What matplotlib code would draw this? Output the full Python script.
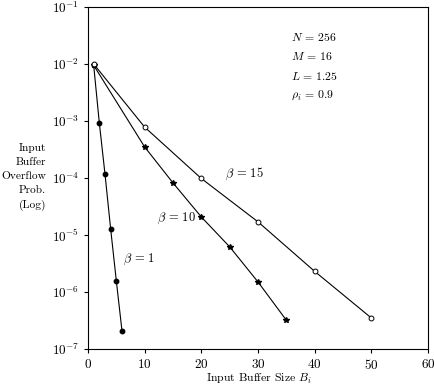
import matplotlib
matplotlib.use("Agg")
import matplotlib.pyplot as plt

plt.rcParams["font.family"] = "serif"
plt.rcParams["font.serif"] = ["cmr10", "DejaVu Serif"]
plt.rcParams["mathtext.fontset"] = "cm"
plt.rcParams["axes.formatter.use_mathtext"] = True

# beta = 1
b1_x = [1, 2, 3, 4, 5, 6]
b1_y = [9.5e-3, 9.2e-4, 1.17e-4, 1.27e-5, 1.56e-6, 2.07e-7]

# beta = 10
b10_x = [1, 10, 15, 20, 25, 30, 35]
b10_y = [9.5e-3, 3.5e-4, 8.2e-5, 2.07e-5, 6.2e-6, 1.5e-6, 3.2e-7]

# beta = 15
b15_x = [1, 10, 20, 30, 40, 50]
b15_y = [1.0e-2, 7.8e-4, 9.8e-5, 1.7e-5, 2.3e-6, 3.5e-7]

x_ticks = [0, 10, 20, 30, 40, 50, 60]

fig = plt.figure(figsize=(4.35, 3.88), dpi=100)
ax = fig.add_axes([0.2023, 0.1005, 0.7817, 0.8815])

ax.plot(b1_x, b1_y, color="black", lw=0.8, marker="o", ms=3.2,
        markerfacecolor="black")
ax.plot(b10_x, b10_y, color="black", lw=0.8, marker="*", ms=4,
        markerfacecolor="black")
ax.plot(b15_x, b15_y, color="black", lw=0.8, marker="o", ms=3.5,
        markerfacecolor="white", markeredgewidth=0.7)

ax.set_yscale("log")
ax.set_xlim(0, 60)
ax.set_ylim(1e-7, 1e-1)
ax.set_xticks(x_ticks)
ax.minorticks_off()
ax.tick_params(direction="out", length=3, width=0.8, labelsize=9.5)

for s in ax.spines.values():
    s.set_linewidth(0.8)

ax.text(6.2, 3.8e-6, r"$\beta\,=\,1$", fontsize=9, va="center")
ax.text(12.2, 2.0e-5, r"$\beta\,=\,10$", fontsize=9, va="center")
ax.text(24.2, 1.2e-4, r"$\beta\,=\,15$", fontsize=9, va="center")

params = (r"$N\,=\,256$" + "\n" + r"$M\,=\,16$" + "\n"
          + r"$L\,=\,1.25$" + "\n" + r"$\rho_i\,=\,0.9$")
ax.text(0.597, 0.93, params, transform=ax.transAxes, fontsize=8.5,
        va="top", ha="left", linespacing=1.75)

fig.text(46 / 435, 1 - 177 / 388, "Input\nBuffer\nOverflow\nProb.\n(Log)",
         ha="right", va="center", fontsize=8.2, linespacing=1.6)
fig.text(259 / 435, 1 - 379 / 388, r"Input Buffer Size $B_i$",
         ha="center", va="center", fontsize=8.5)

fig.savefig("out.png", dpi=100)
